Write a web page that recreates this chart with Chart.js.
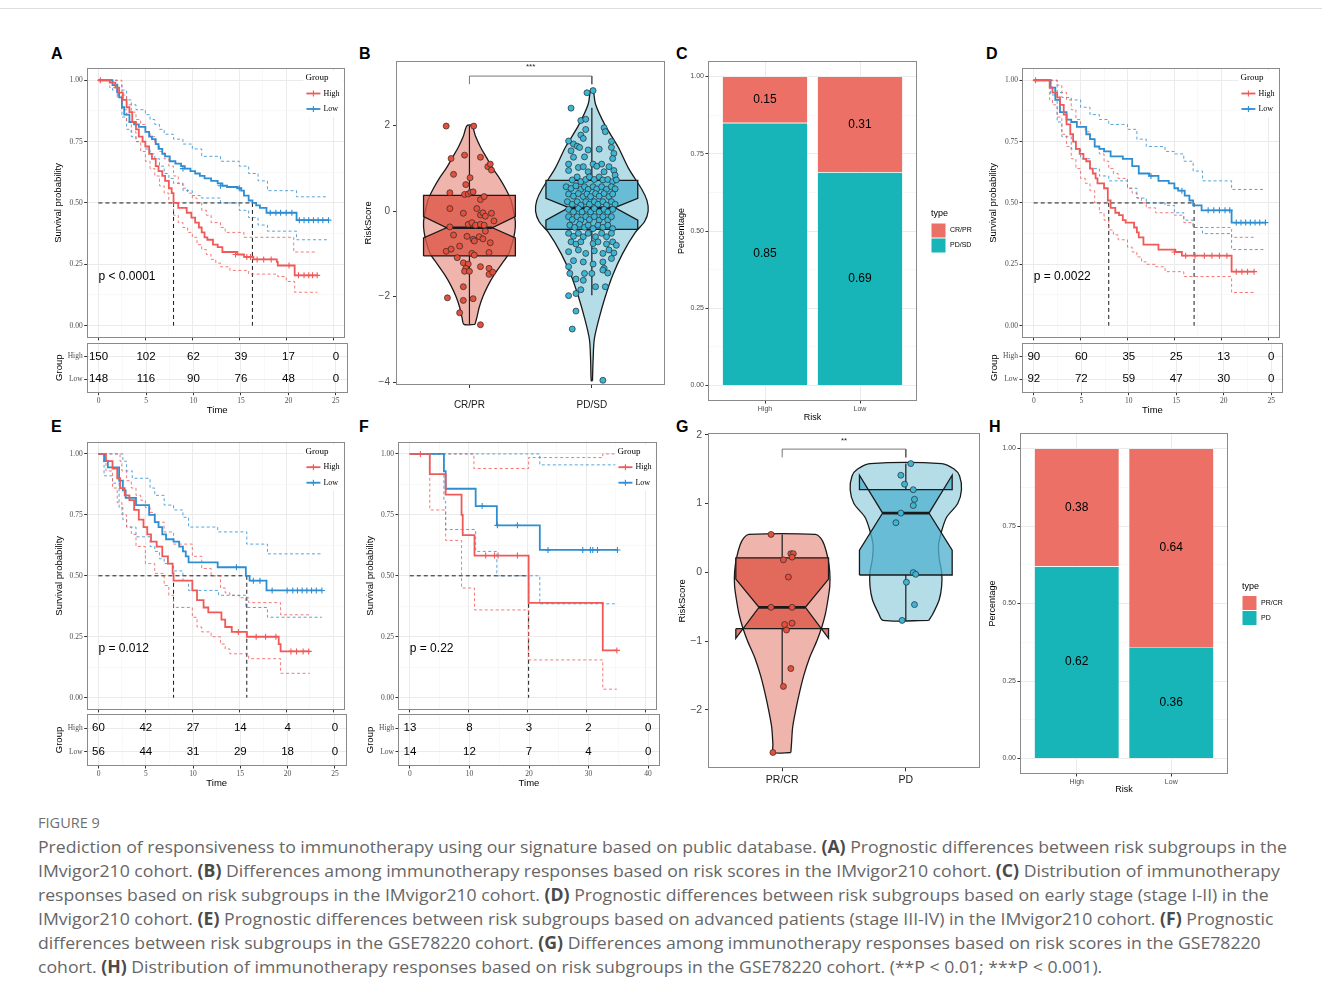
<!DOCTYPE html>
<html>
<head>
<meta charset="utf-8">
<title>Figure 9</title>
<script src="https://cdn.jsdelivr.net/npm/chart.js@4.4.1/dist/chart.umd.min.js"></script>
<style>
  body { margin: 0; background: #fff; }
  #fig { position: relative; width: 1329px; height: 998px; overflow: hidden; background: #fff; }
  #topline { position: absolute; left: 0; top: 8px; width: 1322px; height: 1px; background: #dedede; }
  .tag { position: absolute; font: bold 16px 'Liberation Sans', Arial, sans-serif; line-height: 16px; color: #000; }
  #cap { position: absolute; left: 38px; top: 811px; font-family: 'Open Sans', sans-serif; color: #666; white-space: nowrap; transform-origin: 0 0; }
  #cap .fig { font-size: 14px; line-height: 24px; color: #707070; }
  #cap .ln { font-size: 17px; line-height: 24px; }
  #cap b { color: #4a4a4a; }
</style>
</head>
<body>
<div id="fig">
  <div id="topline"></div>
  <div class="tag" style="left:51px;top:46px">A</div>
  <div class="tag" style="left:359px;top:46px">B</div>
  <div class="tag" style="left:676px;top:46px">C</div>
  <div class="tag" style="left:986px;top:46px">D</div>
  <div class="tag" style="left:51px;top:419px">E</div>
  <div class="tag" style="left:359px;top:419px">F</div>
  <div class="tag" style="left:676px;top:419px">G</div>
  <div class="tag" style="left:989px;top:419px">H</div>
  <div id="cap">
    <div class="fig">FIGURE 9</div>
    <div class="ln">Prediction of responsiveness to immunotherapy using our signature based on public database. <b>(A)</b> Prognostic differences between risk subgroups in the</div>
    <div class="ln">IMvigor210 cohort. <b>(B)</b> Differences among immunotherapy responses based on risk scores in the IMvigor210 cohort. <b>(C)</b> Distribution of immunotherapy</div>
    <div class="ln">responses based on risk subgroups in the IMvigor210 cohort. <b>(D)</b> Prognostic differences between risk subgroups based on early stage (stage I-II) in the</div>
    <div class="ln">IMvigor210 cohort. <b>(E)</b> Prognostic differences between risk subgroups based on advanced patients (stage III-IV) in the IMvigor210 cohort. <b>(F)</b> Prognostic</div>
    <div class="ln">differences between risk subgroups in the GSE78220 cohort. <b>(G)</b> Differences among immunotherapy responses based on risk scores in the GSE78220</div>
    <div class="ln">cohort. <b>(H)</b> Distribution of immunotherapy responses based on risk subgroups in the GSE78220 cohort. (**P &lt; 0.01; ***P &lt; 0.001).</div>
  </div>
</div>
<script>
// ---------------- data ----------------
const groups = ['High', 'Low'];
const survTicks = [0, 0.25, 0.5, 0.75, 1];
const timeTicks25 = [0, 5, 10, 15, 20, 25];
const timeTicks40 = [0, 10, 20, 30, 40];

// A: IMvigor210, all patients  [time, survival]
const aHigh = [[0,1],[1.2,0.99],[1.8,0.97],[2.2,0.95],[2.6,0.92],[3.0,0.89],[3.3,0.87],[3.6,0.83],[4.0,0.80],[4.3,0.77],[4.7,0.75],[5.0,0.73],[5.4,0.70],[5.7,0.68],[6.1,0.65],[6.4,0.63],[6.8,0.61],[7.1,0.59],[7.5,0.56],[7.8,0.54],[8.0,0.50],[8.5,0.48],[9.4,0.46],[9.9,0.44],[10.3,0.42],[10.7,0.40],[11.0,0.38],[11.3,0.36],[11.6,0.35],[12.2,0.33],[12.7,0.32],[13.2,0.30],[14.8,0.29],[15.5,0.28],[16.5,0.27],[19.0,0.26],[19.1,0.245],[20.9,0.205],[23.3,0.205]];
const aHighUp = [[0,1],[2.0,1],[2.5,0.94],[3.0,0.90],[3.5,0.87],[4.0,0.84],[4.5,0.82],[5.0,0.79],[5.5,0.77],[6.0,0.74],[6.5,0.71],[7.0,0.68],[7.5,0.65],[8.0,0.61],[8.5,0.58],[9.0,0.56],[9.5,0.54],[10.0,0.52],[10.5,0.50],[11.0,0.47],[11.5,0.45],[12.0,0.42],[13.0,0.40],[13.5,0.38],[15.5,0.36],[20.8,0.30],[23.3,0.30]];
const aHighLo = [[0,1],[1.2,0.97],[2.0,0.93],[2.5,0.88],[3.0,0.83],[3.5,0.79],[4.0,0.75],[4.5,0.71],[5.0,0.67],[5.5,0.64],[6.0,0.61],[6.5,0.57],[7.0,0.54],[7.5,0.50],[8.0,0.45],[8.5,0.42],[9.0,0.40],[9.5,0.38],[10.0,0.36],[10.5,0.33],[11.0,0.31],[11.5,0.29],[12.0,0.27],[12.5,0.255],[13.0,0.24],[14.0,0.225],[16.0,0.21],[19.1,0.20],[20.0,0.18],[20.9,0.136],[23.3,0.136]];
const aLow = [[0,1],[1.5,0.98],[2.0,0.95],[2.2,0.93],[2.5,0.89],[2.75,0.86],[3.3,0.83],[3.8,0.82],[4.3,0.81],[5.0,0.79],[5.4,0.77],[5.7,0.76],[6.1,0.74],[6.4,0.72],[6.8,0.70],[7.1,0.69],[7.6,0.67],[8.2,0.66],[8.8,0.65],[9.2,0.64],[9.8,0.63],[10.3,0.62],[10.8,0.61],[11.3,0.60],[12.0,0.59],[12.7,0.58],[13.2,0.57],[13.7,0.565],[14.8,0.56],[15.2,0.55],[15.5,0.53],[16.0,0.51],[16.4,0.50],[16.8,0.49],[17.2,0.48],[17.9,0.46],[21.1,0.43],[24.5,0.43]];
const aLowUp = [[0,1],[1.5,1],[2.0,0.98],[2.5,0.96],[3.0,0.92],[3.5,0.90],[4.0,0.88],[5.0,0.86],[5.5,0.84],[6.0,0.82],[6.5,0.80],[7.0,0.78],[8.0,0.76],[9.0,0.74],[10.0,0.72],[11.0,0.69],[13.0,0.67],[15.0,0.65],[16.0,0.62],[17.0,0.59],[18.0,0.55],[21.1,0.525],[24.5,0.525]];
const aLowLo = [[0,1],[1.5,0.96],[2.0,0.94],[2.5,0.85],[3.0,0.80],[3.5,0.77],[4.0,0.75],[5.0,0.72],[5.5,0.70],[6.0,0.68],[6.5,0.65],[7.0,0.62],[7.5,0.60],[8.0,0.58],[9.0,0.55],[10.0,0.53],[11.0,0.52],[13.0,0.50],[15.0,0.47],[16.0,0.44],[17.0,0.41],[18.0,0.385],[21.1,0.35],[24.5,0.35]];
const aHighCens = [[0.2,1],[14.6,0.29],[15.8,0.28],[16.2,0.28],[16.9,0.27],[17.6,0.27],[18.4,0.27],[20.3,0.245],[21.3,0.205],[21.9,0.205],[22.4,0.205],[22.8,0.205],[23.3,0.205]];
const aLowCens = [[9.0,0.64],[13.0,0.57],[15.0,0.56],[18.3,0.46],[18.9,0.46],[19.4,0.46],[20.0,0.46],[20.6,0.46],[21.4,0.43],[21.9,0.43],[22.4,0.43],[22.9,0.43],[23.4,0.43],[23.9,0.43],[24.5,0.43]];
const aMedian = [8.0, 16.4];
const aRiskHigh = [150, 102, 62, 39, 17, 0];
const aRiskLow = [148, 116, 90, 76, 48, 0];
const aP = 'p < 0.0001';

// D: early stage (I-II)
const dHigh = [[0,1],[1.7,0.97],[2.0,0.95],[2.5,0.93],[2.8,0.90],[3.2,0.86],[3.5,0.82],[3.9,0.78],[4.2,0.75],[4.5,0.72],[4.9,0.70],[5.3,0.68],[5.6,0.67],[6.0,0.64],[6.3,0.62],[6.6,0.60],[6.8,0.58],[7.5,0.56],[7.9,0.51],[8.2,0.48],[8.7,0.46],[9.1,0.45],[9.5,0.43],[9.8,0.42],[10.7,0.40],[11.0,0.38],[11.2,0.36],[11.7,0.33],[13.3,0.31],[15.1,0.30],[15.8,0.285],[21.1,0.22],[23.5,0.22]];
const dHighUp = [[0,1],[2.2,1],[2.5,0.98],[3.0,0.95],[3.5,0.92],[4.0,0.88],[4.5,0.84],[5.0,0.81],[5.5,0.79],[6.0,0.76],[6.5,0.73],[7.0,0.70],[7.5,0.67],[8.0,0.64],[8.5,0.62],[9.0,0.60],[10.0,0.56],[10.5,0.54],[11.0,0.52],[11.5,0.50],[12.0,0.48],[13.0,0.46],[15.0,0.45],[16.0,0.42],[17.0,0.40],[21.1,0.36],[23.5,0.36]];
const dHighLo = [[0,1],[1.7,0.92],[2.0,0.90],[2.5,0.85],[3.0,0.78],[3.5,0.73],[4.0,0.68],[4.5,0.64],[5.0,0.60],[5.5,0.58],[6.0,0.55],[6.5,0.50],[7.0,0.46],[7.5,0.43],[8.0,0.39],[8.5,0.37],[9.0,0.35],[10.0,0.32],[10.5,0.30],[11.0,0.28],[11.5,0.26],[12.0,0.25],[13.0,0.24],[14.0,0.22],[16.0,0.20],[21.1,0.135],[23.5,0.135]];
const dLow = [[0,1],[1.8,0.97],[2.3,0.92],[2.8,0.87],[3.5,0.84],[4.0,0.83],[4.6,0.81],[5.6,0.78],[6.0,0.76],[6.5,0.73],[7.0,0.72],[7.5,0.71],[8.2,0.69],[9.5,0.68],[10.5,0.65],[11.2,0.62],[12.3,0.61],[13.3,0.59],[14.4,0.58],[15.0,0.56],[15.4,0.55],[16.1,0.53],[16.6,0.51],[17.0,0.49],[17.9,0.47],[21.1,0.42],[24.7,0.42]];
const dLowUp = [[0,1],[2.0,1],[2.5,0.95],[3.0,0.93],[4.0,0.92],[5.0,0.89],[6.0,0.86],[7.0,0.84],[8.0,0.82],[10.0,0.80],[11.0,0.76],[12.0,0.73],[14.0,0.71],[15.0,0.70],[16.0,0.67],[17.0,0.63],[18.0,0.59],[21.1,0.555],[24.7,0.555]];
const dLowLo = [[0,1],[1.8,0.94],[2.5,0.83],[3.0,0.77],[4.0,0.72],[5.0,0.68],[6.0,0.64],[7.0,0.61],[8.0,0.59],[10.0,0.56],[11.0,0.52],[12.0,0.50],[14.0,0.49],[15.0,0.46],[16.0,0.43],[17.0,0.40],[18.0,0.375],[21.1,0.31],[24.7,0.31]];
const dHighCens = [[0.2,1],[15.0,0.30],[16.2,0.285],[17.2,0.285],[18.2,0.285],[19.0,0.285],[19.8,0.285],[20.6,0.285],[21.6,0.22],[22.2,0.22],[22.8,0.22],[23.5,0.22]];
const dLowCens = [[12.5,0.61],[15.8,0.55],[18.6,0.47],[19.2,0.47],[19.8,0.47],[20.4,0.47],[20.9,0.47],[21.6,0.42],[22.1,0.42],[22.6,0.42],[23.1,0.42],[23.6,0.42],[24.1,0.42],[24.7,0.42]];
const dMedian = [8.0, 17.1];
const dRiskHigh = [90, 60, 35, 25, 13, 0];
const dRiskLow = [92, 72, 59, 47, 30, 0];
const dP = 'p = 0.0022';

// E: advanced stage (III-IV)
const eHigh = [[0,1],[0.8,0.97],[1.5,0.94],[2.0,0.90],[2.3,0.86],[2.8,0.83],[3.3,0.81],[3.8,0.77],[4.3,0.73],[4.8,0.70],[5.2,0.67],[5.6,0.64],[6.2,0.62],[6.8,0.58],[7.4,0.55],[7.9,0.51],[8.0,0.48],[10.0,0.44],[10.5,0.40],[11.2,0.37],[11.7,0.35],[13.1,0.32],[13.5,0.29],[14.2,0.27],[15.8,0.25],[19.2,0.22],[19.4,0.19],[22.5,0.19]];
const eHighUp = [[0,1],[2.2,1],[2.3,0.97],[2.5,0.93],[3.0,0.89],[3.5,0.86],[4.0,0.83],[4.5,0.81],[5.0,0.78],[5.5,0.76],[6.0,0.72],[7.0,0.68],[8.0,0.63],[10.0,0.58],[11.0,0.53],[12.0,0.50],[13.0,0.45],[13.5,0.43],[14.0,0.42],[15.0,0.41],[16.0,0.39],[19.4,0.34],[22.5,0.34]];
const eHighLo = [[0,1],[0.8,0.93],[1.5,0.86],[2.0,0.80],[2.5,0.75],[3.0,0.70],[3.5,0.67],[4.0,0.62],[5.0,0.55],[6.0,0.51],[7.0,0.46],[7.5,0.42],[8.0,0.37],[10.0,0.33],[10.5,0.29],[11.0,0.27],[12.0,0.25],[13.0,0.22],[13.5,0.20],[14.0,0.18],[16.0,0.16],[19.4,0.10],[22.5,0.10]];
const eLow = [[0,1],[0.6,0.97],[1.0,0.945],[2.2,0.89],[2.6,0.85],[2.9,0.82],[4.0,0.79],[5.4,0.75],[6.0,0.72],[6.4,0.70],[6.8,0.67],[7.2,0.65],[8.0,0.64],[8.6,0.62],[9.0,0.60],[9.3,0.58],[9.6,0.555],[12.7,0.535],[15.7,0.50],[16.1,0.48],[17.9,0.44],[23.8,0.44]];
const eLowUp = [[0,1],[2.5,1],[2.6,0.97],[3.0,0.93],[3.6,0.90],[5.5,0.86],[6.0,0.83],[7.0,0.79],[8.0,0.77],[9.0,0.74],[9.6,0.70],[12.7,0.68],[15.8,0.63],[18.0,0.59],[23.8,0.59]];
const eLowLo = [[0,1],[0.6,0.91],[1.5,0.88],[2.2,0.78],[2.6,0.73],[3.0,0.70],[4.0,0.66],[5.5,0.62],[6.0,0.60],[6.5,0.57],[7.0,0.55],[8.0,0.52],[9.0,0.48],[9.6,0.44],[12.8,0.42],[15.7,0.37],[18.0,0.33],[23.8,0.33]];
const eHighCens = [[14.9,0.27],[16.8,0.25],[17.8,0.25],[18.9,0.25],[20.5,0.19],[21.1,0.19],[21.8,0.19],[22.4,0.19]];
const eLowCens = [[14.7,0.535],[16.5,0.48],[17.2,0.48],[18.5,0.44],[20.1,0.44],[20.7,0.44],[21.2,0.44],[21.7,0.44],[22.2,0.44],[22.7,0.44],[23.2,0.44],[23.8,0.44]];
const eMedian = [8.0, 15.8];
const eRiskHigh = [60, 42, 27, 14, 4, 0];
const eRiskLow = [56, 44, 31, 29, 18, 0];
const eP = 'p = 0.012';

// F: GSE78220
const fHigh = [[0,1],[3.4,0.917],[6.1,0.833],[8.8,0.75],[9.0,0.667],[11.0,0.583],[20.2,0.389],[32.8,0.194],[35.2,0.194]];
const fHighUp = [[0,1],[10.9,0.94],[20.2,0.985],[32.8,1],[35.2,1]];
const fHighLo = [[0,1],[3.4,0.77],[6.1,0.645],[8.8,0.45],[11.0,0.36],[20.2,0.155],[32.8,0.035],[35.2,0.035]];
const fLow = [[0,1],[5.8,0.929],[6.1,0.857],[11.2,0.786],[14.8,0.707],[22.1,0.606],[35.3,0.606]];
const fLowUp = [[0,1],[22.1,0.955],[35.3,0.955]];
const fLowLo = [[0,1],[5.8,0.805],[6.1,0.69],[11.2,0.60],[14.8,0.50],[22.1,0.385],[35.3,0.385]];
const fHighCens = [[1.8,1],[12.9,0.583],[14.4,0.583],[15.0,0.583],[18.3,0.583],[35.2,0.194]];
const fLowCens = [[12.3,0.786],[14.9,0.707],[18.3,0.707],[23.5,0.606],[29.4,0.606],[30.7,0.606],[31.1,0.606],[31.9,0.606],[35.3,0.606]];
const fMedian = [20.2, null];
const fRiskHigh = [13, 8, 3, 2, 0];
const fRiskLow = [14, 12, 7, 4, 0];
const fP = 'p = 0.22';

// B: risk score by response, IMvigor210
const bCats = ['CR/PR', 'PD/SD'];
// box stats: [lower whisker, q1, notch low, median, notch high, q3, upper whisker]
const bBoxStats = [[-2.65, -1.05, -0.63, -0.39, -0.13, 0.37, 2.0], [-1.97, -0.43, -0.21, 0.08, 0.30, 0.72, 2.42]];
// violin outline: [risk score, half width]
const bRedViolin = [[-2.65,0.045],[-2.5,0.06],[-2.25,0.08],[-2.0,0.11],[-1.75,0.15],[-1.5,0.20],[-1.25,0.26],[-1.0,0.32],[-0.75,0.35],[-0.5,0.37],[-0.25,0.375],[0,0.36],[0.25,0.34],[0.5,0.30],[0.75,0.25],[1.0,0.19],[1.25,0.14],[1.5,0.09],[1.75,0.05],[2.0,0.02]];
const bBlueViolin = [[-3.97,0.005],[-3.5,0.01],[-3.0,0.02],[-2.5,0.06],[-2.0,0.11],[-1.5,0.17],[-1.0,0.25],[-0.5,0.355],[-0.25,0.43],[0,0.46],[0.25,0.45],[0.5,0.41],[1.0,0.30],[1.5,0.215],[2.0,0.11],[2.5,0.03],[2.85,0.01]];
// jittered samples: [offset from group centre, risk score]
const bRedPts = [[-0.19,1.99],[0.035,1.99],[-0.15,1.23],[-0.04,1.31],[0.09,1.26],[-0.13,0.86],[0.15,1.04],[0.17,1.1],[0.18,0.96],[0.005,0.78],[-0.03,0.62],[-0.16,0.43],[-0.04,0.39],[-0.01,0.40],[0.01,0.44],[0.03,0.45],[0.09,0.27],[0.12,0.34],[-0.16,0.06],[-0.05,-0.05],[0.06,0.06],[0.09,-0.09],[0.11,-0.04],[0.13,-0.12],[0.18,-0.05],[0.2,-0.23],[-0.16,-0.37],[-0.01,-0.31],[0.02,-0.27],[0.05,-0.33],[0.09,-0.31],[0.12,-0.33],[0.13,-0.47],[-0.13,-0.56],[-0.02,-0.59],[0.03,-0.66],[0.04,-0.70],[0.08,-0.60],[0.11,-0.65],[0.17,-0.74],[-0.19,-0.94],[-0.15,-0.89],[-0.08,-0.82],[0.02,-0.99],[0.04,-1.03],[0.16,-0.97],[-0.10,-1.09],[-0.05,-1.21],[-0.01,-1.24],[-0.03,-1.34],[0.09,-1.30],[0.16,-1.34],[0.16,-1.48],[0.19,-1.43],[-0.04,-1.41],[0,-1.41],[-0.05,-1.77],[-0.18,-2.03],[-0.05,-2.09],[0.03,-2.05],[-0.08,-2.38],[0.09,-2.66]];
const bBluePts = [[0.01,2.82],[-0.04,2.77],[-0.17,2.41],[-0.09,2.12],[-0.05,2.15],[-0.05,1.91],[0.10,1.95],[0.11,1.86],[-0.09,1.78],[-0.07,1.70],[-0.19,1.64],[-0.15,1.57],[-0.12,1.52],[-0.10,1.49],[-0.03,1.43],[0.06,1.45],[0.16,1.63],[0.16,1.49],[0.18,1.35],[0.17,1.23],[-0.17,1.41],[-0.15,1.26],[-0.06,1.27],[-0.19,1.10],[0.01,1.10],[0.08,1.10],[0.14,1.04],[-0.19,0.95],[-0.11,1.02],[-0.07,1.04],[-0.03,0.92],[0.04,1.05],[0.10,0.92],[0.18,0.95],[0.19,0.84],[-0.16,0.73],[-0.12,0.80],[-0.09,0.69],[-0.05,0.74],[-0.02,0.80],[0.02,0.74],[0.06,0.80],[0.09,0.73],[0.13,0.74],[0.17,0.69],[0.2,0.73],[-0.21,0.57],[-0.17,0.53],[-0.13,0.59],[-0.09,0.51],[-0.06,0.57],[-0.03,0.51],[0.01,0.57],[0.04,0.52],[0.08,0.57],[0.12,0.51],[0.16,0.57],[0.19,0.52],[-0.19,0.40],[-0.15,0.35],[-0.11,0.41],[-0.07,0.34],[-0.04,0.40],[-0.01,0.34],[0.03,0.41],[0.06,0.35],[0.10,0.41],[0.14,0.34],[0.17,0.40],[-0.2,0.22],[-0.16,0.16],[-0.12,0.22],[-0.09,0.14],[-0.05,0.22],[-0.02,0.16],[0.02,0.22],[0.05,0.16],[0.09,0.22],[0.12,0.14],[0.16,0.22],[0.19,0.16],[-0.19,0.04],[-0.15,-0.02],[-0.11,0.06],[-0.08,-0.02],[-0.04,0.04],[-0.01,-0.02],[0.02,0.06],[0.06,-0.02],[0.10,0.04],[0.13,-0.02],[0.17,0.04],[-0.19,-0.13],[-0.16,-0.20],[-0.12,-0.13],[-0.09,-0.21],[-0.05,-0.13],[-0.02,-0.20],[0.02,-0.13],[0.06,-0.21],[0.09,-0.13],[0.13,-0.21],[0.16,-0.13],[-0.18,-0.33],[-0.14,-0.38],[-0.10,-0.31],[-0.06,-0.38],[-0.03,-0.33],[0.01,-0.41],[0.05,-0.33],[0.09,-0.38],[0.13,-0.33],[0.17,-0.41],[-0.19,-0.52],[-0.15,-0.59],[-0.11,-0.52],[-0.07,-0.60],[-0.03,-0.52],[0.03,-0.60],[0.08,-0.52],[0.12,-0.60],[0.16,-0.52],[-0.17,-0.72],[-0.13,-0.77],[-0.09,-0.72],[0.01,-0.76],[0.05,-0.72],[0.12,-0.77],[0.17,-0.72],[0.20,-0.80],[-0.19,-0.95],[-0.11,-0.91],[-0.05,-0.99],[0.02,-0.93],[0.09,-0.99],[0.14,-0.91],[0.18,-0.98],[-0.19,-1.30],[-0.15,-1.16],[-0.07,-1.19],[0.01,-1.24],[0.09,-1.19],[0.16,-1.11],[0.10,-1.34],[-0.18,-1.46],[-0.06,-1.46],[0,-1.46],[0.09,-1.38],[0.13,-1.45],[-0.13,-1.59],[-0.07,-1.62],[0.03,-1.77],[0.11,-1.77],[-0.19,-1.98],[-0.13,-1.93],[-0.09,-1.84],[-0.13,-2.34],[-0.16,-2.76],[0.09,-3.96]];
const bTicks = [-4, -2, 0, 2];

// C: response share by risk group, IMvigor210
const cCats = ['High', 'Low'];
const cTypes = ['CR/PR', 'PD/SD'];
const cCRPR = [0.15, 0.31];
const cPDSD = [0.85, 0.69];

// G: risk score by response, GSE78220
const gCats = ['PR/CR', 'PD'];
const gBoxStats = [[-1.66, -0.82, -0.96, -0.51, -0.10, 0.21, 0.55], [-0.70, -0.04, 0.32, 0.86, 1.41, 1.20, 1.58]];
const gRedViolin = [[-2.62,0.07],[-2.5,0.075],[-2.25,0.085],[-2.0,0.11],[-1.75,0.14],[-1.5,0.175],[-1.25,0.22],[-1.0,0.28],[-0.8,0.32],[-0.6,0.35],[-0.4,0.37],[-0.2,0.385],[0,0.385],[0.2,0.37],[0.4,0.34],[0.5,0.31],[0.55,0.27]];
const gBlueViolin = [[-0.70,0.185],[-0.6,0.22],[-0.4,0.27],[-0.2,0.29],[0,0.29],[0.2,0.27],[0.4,0.265],[0.6,0.29],[0.8,0.33],[1.0,0.42],[1.2,0.45],[1.4,0.435],[1.5,0.39],[1.58,0.29]];
const gRedPts = [[-0.09,0.55],[0.07,0.27],[0.09,0.27],[0.08,0.22],[0.01,0.18],[0.05,-0.07],[-0.09,-0.51],[0.08,-0.51],[0.02,-0.76],[0.08,-0.74],[0.035,-0.84],[0.07,-1.40],[0.01,-1.66],[-0.075,-2.62]];
const gBluePts = [[0.04,1.58],[-0.04,1.41],[-0.01,1.28],[0.06,1.20],[0.07,1.06],[0.06,0.97],[-0.04,0.86],[-0.08,0.72],[0.06,-0.005],[0.08,-0.03],[0.005,-0.145],[0.07,-0.47],[-0.03,-0.70]];
const gTicks = [-2, -1, 0, 1, 2];

// H: response share by risk group, GSE78220
const hCats = ['High', 'Low'];
const hTypes = ['PR/CR', 'PD'];
const hPRCR = [0.38, 0.64];
const hPD = [0.62, 0.36];

// ---------------- drawing ----------------
const SANS = "'Liberation Sans', Arial, Helvetica, sans-serif";
const SERIF = "'Liberation Serif', 'Times New Roman', serif";
Chart.defaults.font.family = SANS;
Chart.defaults.animation = false;
Chart.defaults.events = [];
Chart.defaults.plugins.legend.display = false;
Chart.defaults.plugins.tooltip.enabled = false;

const RED = '#EF5A58', BLUE = '#2E8ED2';
const RED_CI = 'rgba(239,90,88,0.8)', BLUE_CI = 'rgba(46,142,210,0.8)';
const SALMON = '#EC7066', TEAL = '#17B5B8';

function mk(b) {
  const c = document.createElement('canvas');
  c.width = b.w; c.height = b.h;
  c.style.cssText = `position:absolute;left:${b.left}px;top:${b.top}px;width:${b.w}px;height:${b.h}px`;
  document.getElementById('fig').appendChild(c);
  return c;
}

function withMinor(majors) {
  const out = [];
  majors.forEach((v, i) => { out.push(v); if (i < majors.length - 1) out.push((v + majors[i + 1]) / 2); });
  return out;
}
const isMajor = (majors, v) => majors.some(m => Math.abs(m - v) < 1e-9);

// ggplot-like axis on a linear scale
function axis(o) {
  const vals = o.minor ? withMinor(o.majors) : o.majors.slice();
  const maj = ctx => ctx.tick && isMajor(o.majors, ctx.tick.value);
  return {
    type: 'linear', position: o.position, min: o.min, max: o.max, reverse: !!o.reverse,
    offset: false, stacked: !!o.stacked,
    afterBuildTicks: s => { s.ticks = vals.map(v => ({ value: v })); },
    afterFit: s => {
      if (o.position === 'left') s.width = o.size; else s.height = o.size;
      s.paddingTop = 0; s.paddingBottom = 0; s.paddingLeft = 0; s.paddingRight = 0;
    },
    ticks: {
      display: o.labels !== false, autoSkip: false, maxRotation: 0, minRotation: 0,
      padding: o.pad ?? 1.5, color: o.tickColor || '#4d4d4d', font: o.font || { size: 7.5 },
      callback: v => isMajor(o.majors, v) ? (o.fmt ? o.fmt(v) : String(v)) : ''
    },
    grid: {
      display: true, offset: false, drawOnChartArea: o.grid !== false,
      color: ctx => maj(ctx) ? '#EBEBEB' : '#F4F4F4',
      lineWidth: ctx => maj(ctx) ? 1 : 0.6,
      tickColor: ctx => maj(ctx) ? '#333' : 'rgba(0,0,0,0)',
      tickLength: o.tickLen ?? 2.5
    },
    border: { display: false },
    title: o.title ? { display: true, text: o.title, color: '#000', font: { family: SANS, size: o.titleSize || 9.5 }, padding: o.titlePad } : { display: false }
  };
}

const frame = {
  id: 'frame',
  afterDraw(ch) {
    const a = ch.chartArea, g = ch.ctx;
    g.save(); g.strokeStyle = '#8a8a8a'; g.lineWidth = 1;
    g.strokeRect(Math.round(a.left) + 0.5, Math.round(a.top) + 0.5, Math.round(a.width) - 1, Math.round(a.height) - 1);
    g.restore();
  }
};

function kmPanel(b, d) {
  const pts = a => a.map(p => ({ x: p[0], y: p[1] }));
  const step = (a, col, w, dash) => ({ data: pts(a), showLine: true, stepped: 'before', borderColor: col, borderWidth: w, borderDash: dash, pointRadius: 0, fill: false });
  const cross = (a, col) => ({ data: pts(a), showLine: false, pointStyle: 'cross', pointRadius: 3, borderColor: col, backgroundColor: col, pointBorderWidth: 1.1 });
  const dashK = a => ({ data: a, showLine: true, borderColor: '#1a1a1a', borderWidth: 1, borderDash: [4, 3], pointRadius: 0, fill: false });
  const meds = d.median.filter(m => m != null);
  const datasets = [
    cross(d.highCens, RED), cross(d.lowCens, BLUE),
    step(d.high, RED, 1.8, []), step(d.low, BLUE, 1.8, []),
    step(d.highUp, RED_CI, 1, [3, 2.5]), step(d.highLo, RED_CI, 1, [3, 2.5]),
    step(d.lowUp, BLUE_CI, 1, [3, 2.5]), step(d.lowLo, BLUE_CI, 1, [3, 2.5]),
    dashK([{ x: 0, y: 0.5 }, { x: Math.max(...meds), y: 0.5 }]),
    ...meds.map(m => dashK([{ x: m, y: 0.5 }, { x: m, y: 0 }]))
  ];
  const deco = {
    id: 'kmdeco',
    afterDraw(ch) {
      const a = ch.chartArea, g = ch.ctx, sx = ch.scales.x, sy = ch.scales.y;
      g.save();
      g.fillStyle = '#000'; g.font = `12px ${SANS}`; g.textBaseline = 'middle'; g.textAlign = 'left';
      g.fillText(d.p, sx.getPixelForValue(0), sy.getPixelForValue(0.2));
      const x0 = a.right - 39.5, y0 = a.top;
      g.fillStyle = '#fff'; g.fillRect(x0 - 2, y0 + 3, a.right - x0 + 0.5, 46);
      g.fillStyle = '#000'; g.font = `9px ${SERIF}`;
      g.fillText('Group', x0, y0 + 10);
      [[RED, groups[0]], [BLUE, groups[1]]].forEach(([c, t], i) => {
        const y = y0 + 25.5 + i * 15.5;
        g.strokeStyle = c; g.lineWidth = 1.8;
        g.beginPath(); g.moveTo(x0 + 1, y); g.lineTo(x0 + 15, y); g.stroke();
        g.lineWidth = 1.1;
        g.beginPath(); g.moveTo(x0 + 8, y - 3); g.lineTo(x0 + 8, y + 3); g.moveTo(x0 + 5, y); g.lineTo(x0 + 11, y); g.stroke();
        g.fillStyle = '#000'; g.font = `8px ${SERIF}`; g.fillText(t, x0 + 18, y);
      });
      g.restore();
    }
  };
  new Chart(mk(b), {
    type: 'line',
    data: { datasets },
    options: {
      responsive: false,
      layout: { padding: { top: b.pt, right: b.pr, left: 0, bottom: 0 } },
      scales: {
        x: axis({ position: 'bottom', min: d.xmin, max: d.xmax, majors: d.xTicks, minor: true, labels: false, size: 3 }),
        y: axis({ position: 'left', min: -0.05, max: 1.05, majors: survTicks, minor: true, fmt: v => v.toFixed(2), font: { family: SERIF, size: 7.5 }, size: b.yw, title: 'Survival probability', titlePad: { top: b.tp, bottom: 0 } })
      }
    },
    plugins: [frame, deco]
  });
}

function riskPanel(b, d) {
  const row = (vals, y) => ({ data: d.xTicks.map((t, i) => ({ x: t, y: y, n: vals[i] })), showLine: false, pointRadius: 0 });
  const nums = {
    id: 'nums',
    afterDatasetsDraw(ch) {
      const g = ch.ctx;
      g.save(); g.fillStyle = '#000'; g.font = `11.5px ${SANS}`; g.textAlign = 'center'; g.textBaseline = 'middle';
      ch.data.datasets.forEach((ds, k) => ch.getDatasetMeta(k).data.forEach((el, i) => g.fillText(String(ds.data[i].n), el.x, el.y)));
      g.restore();
    }
  };
  new Chart(mk(b), {
    type: 'line',
    data: { datasets: [row(d.high, 1), row(d.low, 2)] },
    options: {
      responsive: false,
      layout: { padding: { top: b.pt, right: b.pr, left: 0, bottom: 0 } },
      scales: {
        x: axis({ position: 'bottom', min: d.xmin, max: d.xmax, majors: d.xTicks, minor: true, font: { family: SERIF, size: 7.5 }, size: b.xh, pad: 1, title: 'Time', titlePad: { top: 0, bottom: b.tb } }),
        y: axis({ position: 'left', min: 0.4, max: 2.6, reverse: true, majors: [1, 2], minor: false, fmt: v => groups[v - 1], font: { family: SERIF, size: 7.5 }, size: b.yw, title: 'Group', titlePad: { top: b.tp, bottom: 0 } })
      }
    },
    plugins: [frame, nums]
  });
}

function barPanel(b, d) {
  const bar = (vals, col, lab) => ({ label: lab, data: d.cats.map((c, i) => ({ x: i + 1, y: vals[i] })), backgroundColor: col, borderColor: 'rgba(255,255,255,0.6)', borderWidth: 0.6, categoryPercentage: 0.9, barPercentage: 1, stack: 's' });
  const deco = {
    id: 'bardeco',
    afterDatasetsDraw(ch) {
      const g = ch.ctx;
      g.save(); g.fillStyle = '#000'; g.font = `12px ${SANS}`; g.textAlign = 'center'; g.textBaseline = 'middle';
      ch.data.datasets.forEach((ds, k) => ch.getDatasetMeta(k).data.forEach((el, i) => g.fillText(ds.data[i].y.toFixed(2), el.x, (el.y + el.base) / 2)));
      g.restore();
    },
    afterDraw(ch) {
      const a = ch.chartArea, g = ch.ctx;
      const x0 = a.right + 14, mid = (a.top + a.bottom) / 2;
      g.save(); g.textAlign = 'left'; g.textBaseline = 'middle'; g.fillStyle = '#000';
      g.font = `9px ${SANS}`; g.fillText('type', x0, mid - 17);
      [[SALMON, d.types[0]], [TEAL, d.types[1]]].forEach(([c, t], i) => {
        const y = mid - 7.5 + i * 15;
        g.fillStyle = c; g.fillRect(x0 + 0.5, y, 14, 14);
        g.fillStyle = '#000'; g.font = `7px ${SANS}`; g.fillText(t, x0 + 19, y + 7);
      });
      g.restore();
    }
  };
  new Chart(mk(b), {
    type: 'bar',
    data: { datasets: [bar(d.bottom, TEAL, d.types[1]), bar(d.top, SALMON, d.types[0])] },
    options: {
      responsive: false,
      layout: { padding: { top: b.pt, right: b.pr, left: 0, bottom: 0 } },
      scales: {
        x: axis({ position: 'bottom', min: 0.4, max: 2.6, majors: [1, 2], minor: false, stacked: true, fmt: v => d.cats[v - 1], font: { size: 7 }, size: b.xh, pad: 1.5, title: 'Risk', titleSize: 9, titlePad: { top: 0, bottom: b.tb } }),
        y: axis({ position: 'left', min: -0.05, max: 1.05, majors: survTicks, minor: true, stacked: true, fmt: v => v.toFixed(2), font: { size: 7 }, size: b.yw, title: 'Percentage', titleSize: 9, titlePad: { top: b.tp, bottom: 0 } })
      }
    },
    plugins: [frame, deco]
  });
}

function violinPanel(b, d) {
  const hw = 0.375, ind = hw / 2;
  const poly = (pts, fillCol, lw, tension) => ({ data: pts, showLine: true, fill: 'shape', backgroundColor: fillCol, borderColor: '#1a1a1a', borderWidth: lw, pointRadius: 0, tension: tension });
  const violin = (vi, c) => {
    const right = vi.map(([v, w]) => ({ x: c + w, y: v }));
    const left = vi.slice().reverse().map(([v, w]) => ({ x: c - w, y: v }));
    return [...right, ...left, right[0]];
  };
  const boxPts = (s, c) => {
    const [lo, q1, nLo, med, nHi, q3, hi] = s;
    return [{ x: c - hw, y: q1 }, { x: c - hw, y: nLo }, { x: c - hw + ind, y: med }, { x: c - hw, y: nHi }, { x: c - hw, y: q3 },
            { x: c + hw, y: q3 }, { x: c + hw, y: nHi }, { x: c + hw - ind, y: med }, { x: c + hw, y: nLo }, { x: c + hw, y: q1 }, { x: c - hw, y: q1 }];
  };
  const seg = (a, w, col) => ({ data: a, showLine: true, borderColor: col || '#1a1a1a', borderWidth: w, pointRadius: 0, fill: false });
  const dots = (a, c, col) => ({ data: a.map(([o, v]) => ({ x: c + o, y: v })), showLine: false, pointRadius: 3, pointBackgroundColor: col, pointBorderColor: '#2a2a2a', pointBorderWidth: 0.7 });
  const ds = [dots(d.pts[0], 1, '#E4503C'), dots(d.pts[1], 2, '#3DB5D5')];
  d.stats.forEach((s, i) => ds.push(seg([{ x: i + 1 - hw + ind, y: s[3] }, { x: i + 1 + hw - ind, y: s[3] }], 2.6)));
  ds.push(poly(boxPts(d.stats[0], 1), 'rgba(221,88,72,0.8)', 1.3, 0));
  ds.push(poly(boxPts(d.stats[1], 2), 'rgba(82,178,207,0.78)', 1.3, 0));
  d.stats.forEach((s, i) => {
    ds.push(seg([{ x: i + 1, y: s[5] }, { x: i + 1, y: s[6] }], 1.2));
    ds.push(seg([{ x: i + 1, y: s[1] }, { x: i + 1, y: s[0] }], 1.2));
  });
  ds.push(poly(violin(d.violins[0], 1), '#EFB5AD', 1.3, 0.3));
  ds.push(poly(violin(d.violins[1], 2), '#B5DDE8', 1.3, 0.3));
  ds.push(seg([{ x: 1, y: d.br[0] }, { x: 1, y: d.br[1] }, { x: 2, y: d.br[1] }, { x: 2, y: d.br[0] }], 0.8, '#555'));
  const stars = {
    id: 'stars',
    afterDatasetsDraw(ch) {
      const g = ch.ctx;
      g.save(); g.fillStyle = '#222'; g.font = `8px ${SANS}`; g.textAlign = 'center'; g.textBaseline = 'middle';
      g.fillText(d.sig, ch.scales.x.getPixelForValue(1.5), ch.scales.y.getPixelForValue(d.br[2]));
      g.restore();
    }
  };
  new Chart(mk(b), {
    type: 'line',
    data: { datasets: ds },
    options: {
      responsive: false,
      layout: { padding: { top: b.pt, right: b.pr, left: 0, bottom: 0 } },
      scales: {
        x: axis({ position: 'bottom', min: 0.4, max: 2.6, majors: [1, 2], minor: false, grid: false, fmt: v => d.cats[v - 1], font: { size: b.fs }, tickColor: '#1a1a1a', size: b.xh, tickLen: 3, pad: b.xpad }),
        y: axis({ position: 'left', min: d.ymin, max: d.ymax, majors: d.ticks, minor: false, grid: false, fmt: v => (v < 0 ? '\u2212' + Math.abs(v) : String(v)), font: { size: b.fs }, size: b.yw, tickLen: 3, pad: 3, title: 'RiskScore', titlePad: { top: b.tp, bottom: 0 } })
      }
    },
    plugins: [frame, stars]
  });
}

// ---------------- panels ----------------
kmPanel({ left: 40, top: 60, w: 310, h: 283, pt: 8, pr: 2.3, yw: 46.7, tp: 12.6 },
  { high: aHigh, highUp: aHighUp, highLo: aHighLo, low: aLow, lowUp: aLowUp, lowLo: aLowLo, highCens: aHighCens, lowCens: aLowCens, median: aMedian, p: aP, xTicks: timeTicks25, xmin: -1.25, xmax: 26.25 });
riskPanel({ left: 40, top: 340, w: 310, h: 80, pt: 2.7, pr: 2.3, yw: 46.7, xh: 27.3, tp: 13.3, tb: 3.8 },
  { high: aRiskHigh, low: aRiskLow, xTicks: timeTicks25, xmin: -1.25, xmax: 26.25 });

kmPanel({ left: 975, top: 60, w: 310, h: 283, pt: 8, pr: 2, yw: 47, tp: 12.6 },
  { high: dHigh, highUp: dHighUp, highLo: dHighLo, low: dLow, lowUp: dLowUp, lowLo: dLowLo, highCens: dHighCens, lowCens: dLowCens, median: dMedian, p: dP, xTicks: timeTicks25, xmin: -1.25, xmax: 26.25 });
riskPanel({ left: 975, top: 340, w: 310, h: 80, pt: 2.7, pr: 2, yw: 47, xh: 27.3, tp: 13.3, tb: 3.8 },
  { high: dRiskHigh, low: dRiskLow, xTicks: timeTicks25, xmin: -1.25, xmax: 26.25 });

kmPanel({ left: 40, top: 433, w: 310, h: 282, pt: 8.7, pr: 3.3, yw: 46.7, tp: 13.6 },
  { high: eHigh, highUp: eHighUp, highLo: eHighLo, low: eLow, lowUp: eLowUp, lowLo: eLowLo, highCens: eHighCens, lowCens: eLowCens, median: eMedian, p: eP, xTicks: timeTicks25, xmin: -1.25, xmax: 26.25 });
riskPanel({ left: 40, top: 711, w: 310, h: 82, pt: 3, pr: 3.3, yw: 46.7, xh: 27, tp: 13.3, tb: 4.3 },
  { high: eRiskHigh, low: eRiskLow, xTicks: timeTicks25, xmin: -1.25, xmax: 26.25 });

kmPanel({ left: 350, top: 433, w: 312, h: 282, pt: 8.7, pr: 2, yw: 48, tp: 15 },
  { high: fHigh, highUp: fHighUp, highLo: fHighLo, low: fLow, lowUp: fLowUp, lowLo: fLowLo, highCens: fHighCens, lowCens: fLowCens, median: fMedian, p: fP, xTicks: timeTicks40, xmin: -2, xmax: 42 });
riskPanel({ left: 350, top: 711, w: 312, h: 82, pt: 3, pr: 2, yw: 48, xh: 27, tp: 14.5, tb: 4.3 },
  { high: fRiskHigh, low: fRiskLow, xTicks: timeTicks40, xmin: -2, xmax: 42 });

violinPanel({ left: 350, top: 55, w: 320, h: 365, pt: 5.7, pr: 4, yw: 46, xh: 35, tp: 12.3, fs: 10, xpad: 11 },
  { cats: bCats, stats: bBoxStats, violins: [bRedViolin, bBlueViolin], pts: [bRedPts, bBluePts], ticks: bTicks, ymin: -4.07, ymax: 3.52, br: [2.97, 3.16, 3.38], sig: '***' });
violinPanel({ left: 670, top: 428, w: 315, h: 372, pt: 5.3, pr: 5, yw: 38, xh: 31.7, tp: 6.3, fs: 10.5, xpad: 3 },
  { cats: gCats, stats: gBoxStats, violins: [gRedViolin, gBlueViolin], pts: [gRedPts, gBluePts], ticks: gTicks, ymin: -2.85, ymax: 2.02, br: [1.67, 1.79, 1.91], sig: '**' });

barPanel({ left: 670, top: 55, w: 318, h: 375, pt: 6, pr: 71, yw: 38, xh: 29, tp: 6.3, tb: 6.6 },
  { cats: cCats, types: cTypes, top: cCRPR, bottom: cPDSD });
barPanel({ left: 980, top: 428, w: 340, h: 372, pt: 5, pr: 92, yw: 40, xh: 26, tp: 7.3, tb: 4.6 },
  { cats: hCats, types: hTypes, top: hPRCR, bottom: hPD });

// fit the caption to the printed line width
const cap = document.getElementById('cap');
const capScale = 1249 / cap.scrollWidth;
cap.style.transform = `scaleX(${capScale})`;
</script>
</body>
</html>
